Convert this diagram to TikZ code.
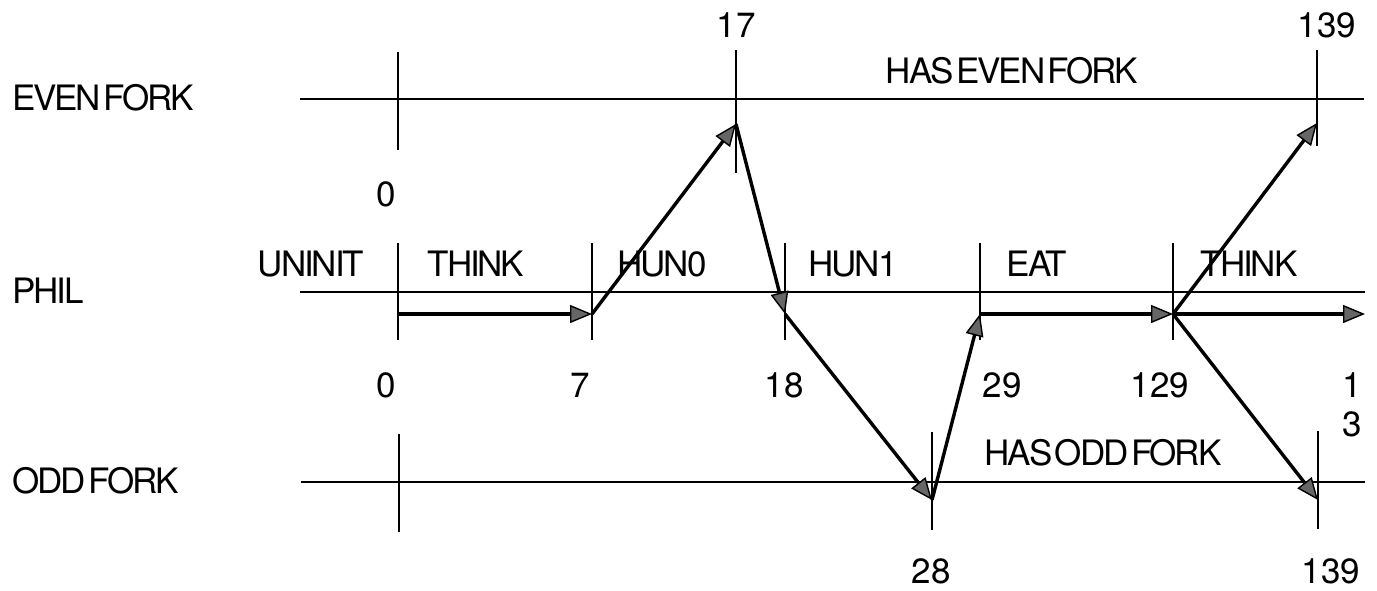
\documentclass[tikz,border=0pt]{standalone}
\usepackage{fontspec}
\setmainfont{TeX Gyre Heros}
\newfontfamily\tightfont[LetterSpace=-6,WordSpace=0.35]{TeX Gyre Heros}
\usetikzlibrary{arrows.meta}
\begin{document}
\begin{tikzpicture}[x=1pt,y=-1pt,
  axis/.style={line width=2.6pt},
  tick/.style={line width=2.6pt},
  msg/.style={line width=3.4pt,-{Triangle[length=22pt,width=18pt,fill=gray!80!black,line width=1.4pt]}},
  txt/.style={font=\tightfont\fontsize{35}{40}\selectfont, inner sep=0pt},
  num/.style={font=\fontsize{35}{40}\selectfont, inner sep=0pt}]
\useasboundingbox (0,0) rectangle (1377,590);

% lane lines
\coordinate (evenL) at (300,99);  \coordinate (evenR) at (1364,99);
\coordinate (philL) at (300,292); \coordinate (philR) at (1365,292);
\coordinate (oddL)  at (301,482); \coordinate (oddR)  at (1365,482);
\draw[axis] (evenL) -- (evenR);
\draw[axis] (philL) -- (philR);
\draw[axis] (oddL) -- (oddR);

% ticks
\foreach \x/\a/\b in {398/52/150, 736/50/173, 1317/50/146}
  \draw[tick] (\x,\a) -- (\x,\b);
\foreach \x in {398,592,785,980,1173}
  \draw[tick] (\x,243) -- (\x,340);
\foreach \x/\a/\b in {399/434/532, 932/432/530, 1318/431/529}
  \draw[tick] (\x,\a) -- (\x,\b);

% events
\coordinate (p0) at (398,314);
\coordinate (p7) at (592,314);
\coordinate (e17) at (736,124);
\coordinate (p18) at (785,314);
\coordinate (o28) at (932,500);
\coordinate (p29) at (980,314);
\coordinate (p129) at (1173,314);
\coordinate (e139) at (1317,123);
\coordinate (o139) at (1318,500);
\coordinate (pend) at (1365,314);

\draw[msg] (p0) -- (p7);
\draw[msg] (p7) -- (e17);
\draw[msg] (e17) -- (p18);
\draw[msg] (p18) -- (o28);
\draw[msg] (o28) -- (p29);
\draw[msg] (p29) -- (p129);
\draw[msg] (p129) -- (pend);
\draw[msg] (p129) -- (e139);
\draw[msg] (p129) -- (o139);

% lane names
\node[txt,anchor=west] (nEven) at (12,98) {EVEN FORK};
\node[txt,anchor=west] (nPhil) at (12,291) {PHIL};
\node[txt,anchor=west] (nOdd) at (12,481) {ODD FORK};

% state labels
\node[txt] (sUninit) at (311,264) {UNINIT};
\node[txt] (sThink1) at (476,264) {THINK};
\node[txt] (sHun0) at (662,264) {HUN0};
\node[txt] (sHun1) at (853,264) {HUN1};
\node[txt] (sEat) at (1037,264) {EAT};
\node[txt] (sThink2) at (1249,264) {THINK};
\node[txt] (sHasEven) at (1012,71) {HAS EVEN FORK};
\node[txt] (sHasOdd) at (1103,453) {HAS ODD FORK};

% times
\node[num] (t17) at (736,25) {17};
\node[num] (t139a) at (1327,25) {139};
\node[num] (t0a) at (386,194) {0};
\node[num] (t0b) at (386,385) {0};
\node[num] (t7) at (580,385) {7};
\node[num] (t18) at (784,385) {18};
\node[num] (t29) at (1002,385) {29};
\node[num] (t129) at (1160,385) {129};
\node[num] (t1) at (1352,385) {1};
\node[num] (t3) at (1352,424) {3};
\node[num] (t28) at (931,571) {28};
\node[num] (t139b) at (1331,571) {139};
\end{tikzpicture}
\end{document}
